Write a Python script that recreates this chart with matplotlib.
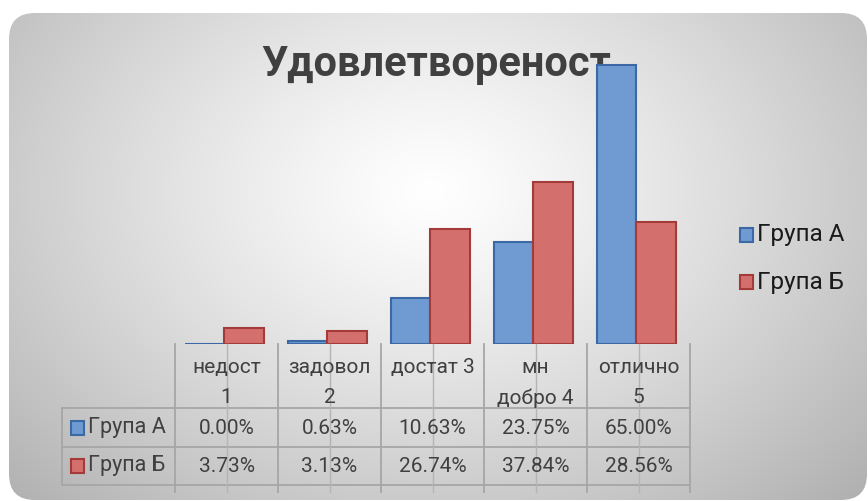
import numpy as np
import matplotlib
matplotlib.use("Agg")
import matplotlib.pyplot as plt
from matplotlib.patches import FancyBboxPatch, Rectangle

# ---- data ----
categories = ["недост\n1", "задовол\n2", "достат 3", "мн\nдобро 4", "отлично\n5"]
series_names = ["Група А", "Група Б"]
group_a = [0.00, 0.63, 10.63, 23.75, 65.00]
group_b = [3.73, 3.13, 26.74, 37.84, 28.56]
title = "Удовлетвореност"

# ---- style ----
FONT = ["Roboto", "DejaVu Sans"]
plt.rcParams["font.family"] = FONT
W, H = 868, 501
blue_fill, blue_edge = "#6f9bd2", "#3c69a6"
red_fill, red_edge = "#d3706e", "#a53b39"
text_col = "#404040"
grid_col = "#a6a6a6"

fig = plt.figure(figsize=(W / 100, H / 100), dpi=100)

# background with radial gradient in rounded box
bg = fig.add_axes([0, 0, 1, 1])
bg.set_xlim(0, W)
bg.set_ylim(H, 0)
bg.axis("off")
yy, xx = np.mgrid[0:H, 0:W]
d = np.sqrt(((xx - 430) / 520.0) ** 2 + ((yy - 190) / 380.0) ** 2)
v = 1.0 - 0.26 * np.clip(d, 0, 1.25) ** 1.2
img = np.dstack([v, v, v])
box = FancyBboxPatch((9, 13), 858, 487, boxstyle="round,pad=0,rounding_size=26",
                     transform=bg.transData, facecolor="none", edgecolor="none")
bg.add_patch(box)
im = bg.imshow(img, extent=(0, W, H, 0), interpolation="bilinear", zorder=0)
im.set_clip_path(box)
bg.text(436, 64, title, ha="center", va="center", fontsize=30, fontweight="bold",
        color=text_col, zorder=2)

# main plot area
L, CW, BASE, TOPPX = 175, 103, 344, 44
ax = fig.add_axes([L / W, (H - BASE) / H, 5 * CW / W, (BASE - TOPPX) / H])
ax.set_facecolor("none")
x = np.arange(len(categories))
bw = 0.38
ax.bar(x - bw / 2 - 0.02, group_a, bw, color=blue_fill, edgecolor=blue_edge, linewidth=1.5, zorder=3)
ax.bar(x + bw / 2 - 0.02, group_b, bw, color=red_fill, edgecolor=red_edge, linewidth=1.5, zorder=3)
ax.set_xlim(-0.5, len(categories) - 0.5)
ax.set_ylim(0, 70)
ax.axis("off")

# data table overlay (pixel coordinates)
ov = fig.add_axes([0, 0, 1, 1])
ov.set_xlim(0, W)
ov.set_ylim(H, 0)
ov.axis("off")
ov.patch.set_alpha(0)
n = len(categories)
TL = 62
rows_y = [408, 447, 485]
FS = 15
for yv in rows_y:
    ov.plot([TL, L + n * CW], [yv, yv], color=grid_col, lw=1.3)
ov.plot([TL, TL], [rows_y[0], rows_y[-1]], color=grid_col, lw=1.3)
for i in range(n + 1):
    xb = L + i * CW
    ov.plot([xb, xb], [BASE, 492], color=grid_col, lw=1.3)
for i in range(n):
    xc = L + (i + 0.5) * CW
    ov.plot([xc, xc], [BASE, 492], color="#b4b4b4", lw=1.0)
    ov.text(xc, 358, categories[i], ha="center", va="top", fontsize=FS,
            color=text_col, linespacing=1.75)
    ov.text(xc, 428, f"{group_a[i]:.2f}%", ha="center", va="center", fontsize=FS, color=text_col)
    ov.text(xc, 466, f"{group_b[i]:.2f}%", ha="center", va="center", fontsize=FS, color=text_col)

for (yc, name, fc, ec) in [(428, series_names[0], blue_fill, blue_edge),
                           (466, series_names[1], red_fill, red_edge)]:
    ov.add_patch(Rectangle((71, yc - 7), 13, 14, facecolor=fc, edgecolor=ec, lw=1.5))
    ov.text(88, yc, name, ha="left", va="center", fontsize=15.5, color=text_col)

# legend
for (yc, name, fc, ec) in [(235, series_names[0], blue_fill, blue_edge),
                           (282, series_names[1], red_fill, red_edge)]:
    ov.add_patch(Rectangle((740, yc - 7), 13, 14, facecolor=fc, edgecolor=ec, lw=1.5))
    ov.text(757, yc, name, ha="left", va="center", fontsize=17.5, color="#1a1a1a")

fig.savefig("out.png", dpi=100)
